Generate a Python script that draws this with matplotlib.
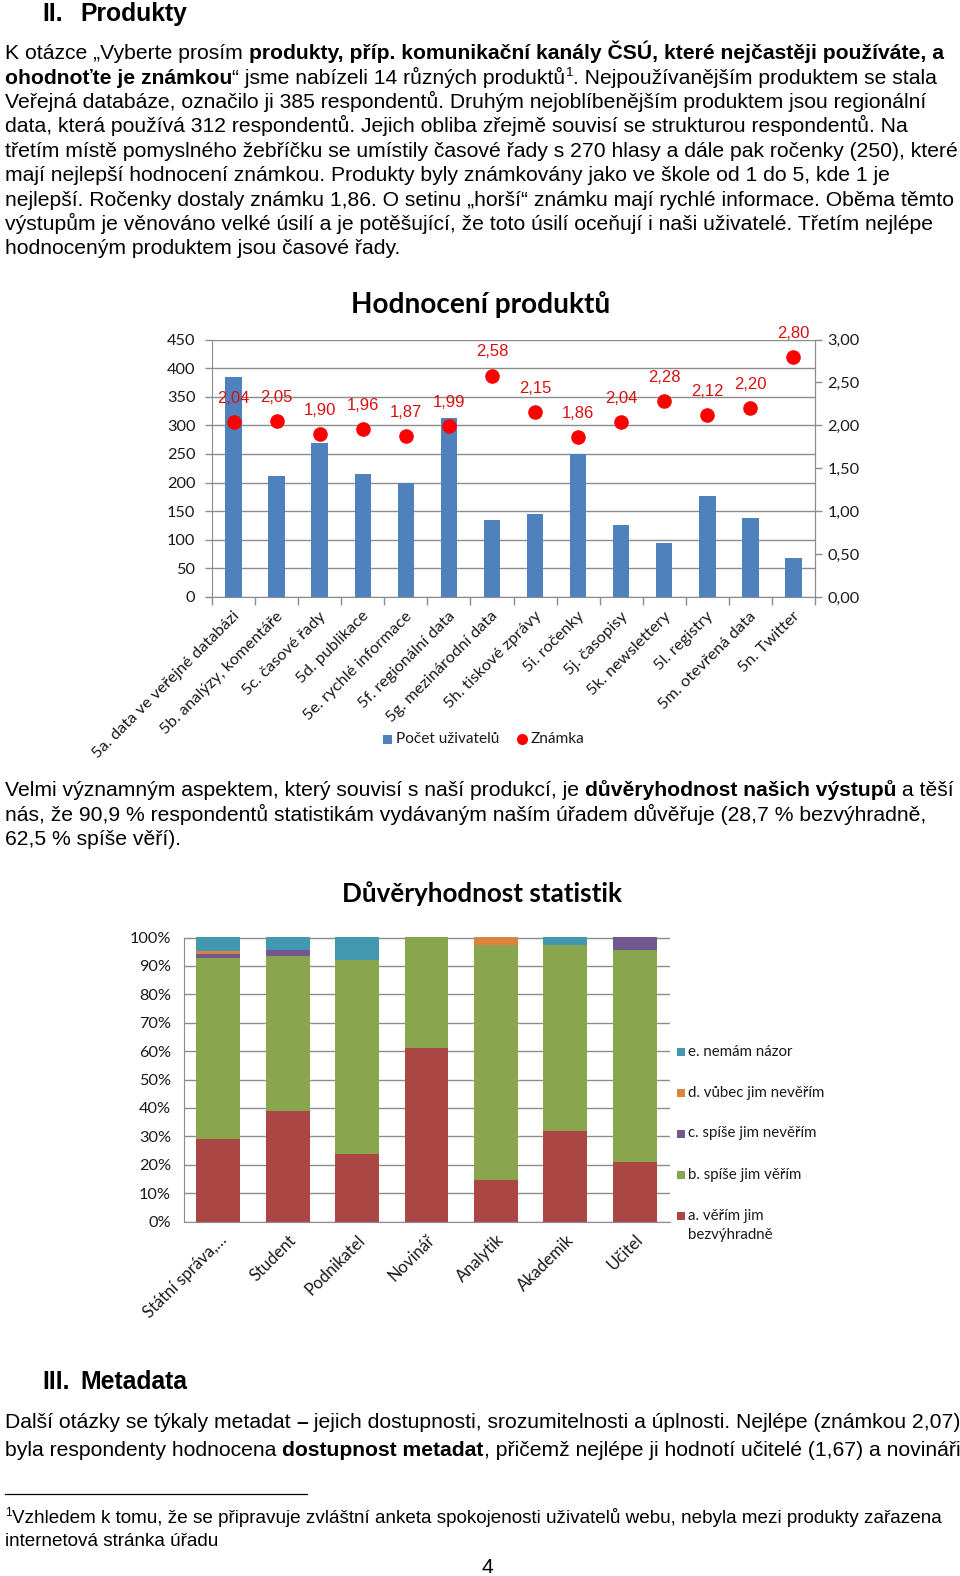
import matplotlib
matplotlib.use('Agg')
import matplotlib.pyplot as plt
from matplotlib.font_manager import FontProperties
from matplotlib.patches import Rectangle
from matplotlib.lines import Line2D
from matplotlib.transforms import ScaledTranslation
import numpy as np

W, H = 960, 1576
DPI = 100
BODY = ['Liberation Sans', 'DejaVu Sans']
CHART = ['Lato', 'DejaVu Sans']
TXT = '#1a1a1a'
GRID = '#8c8c8c'

# ---------------- data: chart 1 ----------------
products = ["5a. data ve veřejné databázi", "5b. analýzy, komentáře", "5c. časové řady",
            "5d. publikace", "5e. rychlé informace", "5f. regionální data",
            "5g. mezinárodní data", "5h. tiskové zprávy", "5i. ročenky", "5j. časopisy",
            "5k. newslettery", "5l. registry", "5m. otevřená data", "5n. Twitter"]
users = [385, 212, 270, 215, 199, 312, 135, 145, 250, 126, 94, 177, 138, 69]
grades = [2.04, 2.05, 1.90, 1.96, 1.87, 1.99, 2.58, 2.15, 1.86, 2.04, 2.28, 2.12, 2.20, 2.80]
users_ticks = [0, 50, 100, 150, 200, 250, 300, 350, 400, 450]
grade_ticks = [0.0, 0.5, 1.0, 1.5, 2.0, 2.5, 3.0]
legend1 = ["Počet uživatelů", "Známka"]

# ---------------- data: chart 2 ----------------
groups = ["Státní správa,…", "Student", "Podnikatel", "Novinář", "Analytik", "Akademik", "Učitel"]
trust_a = [29.0, 38.9, 23.6, 61.1, 14.5, 31.7, 20.8]
trust_b = [63.8, 54.5, 68.4, 38.9, 82.7, 65.6, 74.9]
trust_c = [1.3, 2.1, 0.0, 0.0, 0.0, 0.0, 4.3]
trust_d = [1.1, 0.0, 0.0, 0.0, 2.8, 0.0, 0.0]
trust_e = [4.8, 4.5, 8.0, 0.0, 0.0, 2.7, 0.0]
trust_names = ["a. věřím jim\nbezvýhradně", "b. spíše jim věřím", "c. spíše jim nevěřím",
               "d. vůbec jim nevěřím", "e. nemám názor"]
trust_colors = ['#AA4643', '#89A54E', '#71588F', '#DB843D', '#4198AF']
pct_ticks = [0, 10, 20, 30, 40, 50, 60, 70, 80, 90, 100]

# ---------------- text ----------------
para1 = [
    [("K otázce „Vyberte prosím ", ""), ("produkty, příp. komunikační kanály ČSÚ, které nejčastěji používáte, a", "b")],
    [("ohodnoťte je známkou", "b"), ("“ jsme nabízeli 14 různých produktů", ""), ("1", "s"),
     (". Nejpoužívanějším produktem se stala", "")],
    [("Veřejná databáze, označilo ji 385 respondentů. Druhým nejoblíbenějším produktem jsou regionální", "")],
    [("data, která používá 312 respondentů. Jejich obliba zřejmě souvisí se strukturou respondentů. Na", "")],
    [("třetím místě pomyslného žebříčku se umístily časové řady s 270 hlasy a dále pak ročenky (250), které", "")],
    [("mají nejlepší hodnocení známkou. Produkty byly známkovány jako ve škole od 1 do 5, kde 1 je", "")],
    [("nejlepší. Ročenky dostaly známku 1,86. O setinu „horší“ známku mají rychlé informace. Oběma těmto", "")],
    [("výstupům je věnováno velké úsilí a je potěšující, že toto úsilí oceňují i naši uživatelé. Třetím nejlépe", "")],
    [("hodnoceným produktem jsou časové řady.", "")],
]
para2 = [
    [("Velmi významným aspektem, který souvisí s naší produkcí, je ", ""),
     ("důvěryhodnost našich výstupů", "b"), (" a těší", "")],
    [("nás, že 90,9 % respondentů statistikám vydávaným naším úřadem důvěřuje (28,7 % bezvýhradně,", "")],
    [("62,5 % spíše věří).", "")],
]
para3 = [
    [("Další otázky se týkaly metadat ", ""), ("–", "b"),
     (" jejich dostupnosti, srozumitelnosti a úplnosti. Nejlépe (známkou 2,07)", "")],
    [("byla respondenty hodnocena ", ""), ("dostupnost metadat", "b"),
     (", přičemž nejlépe ji hodnotí učitelé (1,67) a novináři", "")],
]
foot = [
    [("1", "s"), ("Vzhledem k tomu, že se připravuje zvláštní anketa spokojenosti uživatelů webu, nebyla mezi produkty zařazena", "")],
    [("internetová stránka úřadu", "")],
]

fig = plt.figure(figsize=(W / DPI, H / DPI), dpi=DPI)
fig.patch.set_facecolor('white')
renderer = fig.canvas.get_renderer()


def fx(x):
    return x / W


def fy(y):
    return 1 - y / H


def tw(s, size, bold=False, family=BODY):
    fp = FontProperties(family=family, size=size, weight='bold' if bold else 'normal')
    w1, _, _ = renderer.get_text_width_height_descent('|' + s + '|', fp, ismath=False)
    w2, _, _ = renderer.get_text_width_height_descent('||', fp, ismath=False)
    return w1 - w2


def line_w(runs, size, family=BODY):
    tot = 0
    for s, st in runs:
        fs = size * 0.62 if 's' in st else size
        tot += tw(s, fs, 'b' in st, family)
    return tot


def draw_line(x, y, runs, size, family=BODY, color='black'):
    cx = x
    for s, st in runs:
        sup = 's' in st
        bold = 'b' in st
        fs = size * 0.62 if sup else size
        yy = y - size * DPI / 72 * 0.38 if sup else y
        fig.text(fx(cx), fy(yy), s, fontsize=fs, fontweight='bold' if bold else 'normal',
                 family=family, ha='left', va='baseline', color=color)
        cx += tw(s, fs, bold, family)


# calibrate font sizes to the page widths
body = 12 * 937 / line_w(para1[0], 12)
foot_sz = 10 * 943 / line_w(foot[0], 10)
head = 16 * 107 / tw("Produkty", 16, True)

# headings
fig.text(fx(42), fy(21), "II.", fontsize=head, fontweight='bold', family=BODY, va='baseline')
fig.text(fx(80), fy(21), "Produkty", fontsize=head, fontweight='bold', family=BODY, va='baseline')
fig.text(fx(42), fy(1389), "III.", fontsize=head, fontweight='bold', family=BODY, va='baseline')
fig.text(fx(80), fy(1389), "Metadata", fontsize=head, fontweight='bold', family=BODY, va='baseline')

for i, ln in enumerate(para1):
    draw_line(5, 59.3 + 24.4 * i, ln, body)
for i, ln in enumerate(para2):
    draw_line(5, 796.5 + 24.4 * i, ln, body)
for i, ln in enumerate(para3):
    draw_line(5, 1427.5 + 28.7 * i, ln, body)
fig.add_artist(Line2D([fx(5), fx(307)], [fy(1494), fy(1494)], color='black', lw=0.9))
for i, ln in enumerate(foot):
    draw_line(5, 1523 + 23.5 * i, ln, foot_sz)
fig.text(fx(487), fy(1573), "4", fontsize=body, family=BODY, ha='center', va='baseline')

# ---------------- chart 1 ----------------
tsize = 18 * 259 / tw("Hodnocení produktů", 18, True, CHART)
tsize2 = 18 * 280 / tw("Důvěryhodnost statistik", 18, True, CHART)
lab_sz = 10 * 200 / tw(products[0], 10, False, CHART)
leg_sz = 10 * 104 / tw(legend1[0], 10, False, CHART)
tick_sz = leg_sz * 1.05
red_sz = 10 * 32.5 / tw("2,04", 10, False, BODY)

fig.text(fx(481), fy(313), "Hodnocení produktů", fontsize=tsize, fontweight='bold',
         family=CHART, ha='center', va='baseline', color='black')

L, R, T, B = 212, 815, 339.5, 597
ax1 = fig.add_axes([fx(L), fy(B), (R - L) / W, (B - T) / H])
x = np.arange(len(products))
ax1.bar(x, users, width=0.38, color='#4F81BD', zorder=2)
ax1.set_xlim(-0.5, len(products) - 0.5)
ax1.set_ylim(0, 450)
ax1.set_yticks(users_ticks)
ax1.set_yticklabels([str(v) for v in users_ticks], fontsize=tick_sz, family=CHART, color=TXT)
ax1.yaxis.grid(True, color=GRID, lw=1)
ax1.set_axisbelow(True)
ax1.tick_params(axis='y', length=5, width=1, color=GRID, pad=7)
ax1.set_xticks(x)
ax1.set_xticklabels([])
ax1.tick_params(axis='x', which='major', length=0)
ax1.set_xticks(np.arange(-0.5, len(products), 1.0), minor=True)
ax1.tick_params(axis='x', which='minor', length=6, width=1, color=GRID, direction='out')
ax1.spines['top'].set_visible(False)
for sp in ['left', 'bottom', 'right']:
    ax1.spines[sp].set_color(GRID)

off = ScaledTranslation(4 / DPI, -17 / DPI, fig.dpi_scale_trans)
for i, name in enumerate(products):
    ax1.text(i, 0, name, transform=ax1.get_xaxis_transform() + off, rotation=45,
             rotation_mode='anchor', ha='right', va='center', fontsize=lab_sz,
             family=CHART, color=TXT)

ax2 = ax1.twinx()
ax2.set_ylim(0, 3)
ax2.plot(x, grades, 'o', color='#FF0000', ms=10.5, mec='none', zorder=5, clip_on=False)
for i, g in enumerate(grades):
    ax2.annotate(f"{g:.2f}".replace('.', ','), (i, g), xytext=(0, 17.0), textcoords='offset points',
                 ha='center', va='center', color='#D81010', fontsize=red_sz, family=BODY,
                 annotation_clip=False)
ax2.set_yticks(grade_ticks)
ax2.set_yticklabels([f"{v:.2f}".replace('.', ',') for v in grade_ticks], fontsize=tick_sz,
                    family=CHART, color=TXT)
ax2.tick_params(axis='y', length=5, width=1, color=GRID, pad=4)
for sp in ['top', 'left', 'bottom']:
    ax2.spines[sp].set_visible(False)
ax2.spines['right'].set_color(GRID)

# legend chart 1
ly = 739
fig.add_artist(Rectangle((fx(383), fy(ly + 4.5)), 9 / W, 9 / H, transform=fig.transFigure,
                         facecolor='#4F81BD', edgecolor='none'))
fig.text(fx(396), fy(ly), legend1[0], fontsize=leg_sz, family=CHART, va='center', color=TXT)
fig.add_artist(Line2D([fx(522)], [fy(ly)], marker='o', ms=8, color='#FF0000', mec='none',
                      transform=fig.transFigure))
fig.text(fx(531), fy(ly), legend1[1], fontsize=leg_sz, family=CHART, va='center', color=TXT)

# ---------------- chart 2 ----------------
fig.text(fx(482), fy(902), "Důvěryhodnost statistik", fontsize=tsize2, fontweight='bold',
         family=CHART, ha='center', va='baseline', color='black')
L2, R2, T2, B2 = 183.5, 669.5, 937.5, 1221.5
ax3 = fig.add_axes([fx(L2), fy(B2), (R2 - L2) / W, (B2 - T2) / H])
xg = np.arange(len(groups))
bottom = np.zeros(len(groups))
for vals, col in zip([trust_a, trust_b, trust_c, trust_d, trust_e], trust_colors):
    ax3.bar(xg, vals, bottom=bottom, width=0.63, color=col, zorder=2)
    bottom += np.array(vals)
ax3.set_xlim(-0.5, len(groups) - 0.5)
ax3.set_ylim(0, 100)
ax3.set_yticks(pct_ticks)
ax3.set_yticklabels([f"{v}%" for v in pct_ticks], fontsize=tick_sz, family=CHART, color=TXT)
ax3.yaxis.grid(True, color=GRID, lw=1)
ax3.set_axisbelow(True)
ax3.tick_params(axis='y', length=0, pad=9)
ax3.set_xticks(xg)
ax3.set_xticklabels([])
ax3.tick_params(axis='x', length=0)
for sp in ['top', 'right']:
    ax3.spines[sp].set_visible(False)
for sp in ['left', 'bottom']:
    ax3.spines[sp].set_color(GRID)
off2 = ScaledTranslation(6 / DPI, -16 / DPI, fig.dpi_scale_trans)
for i, name in enumerate(groups):
    ax3.text(i, 0, name, transform=ax3.get_xaxis_transform() + off2, rotation=45,
             rotation_mode='anchor', ha='right', va='center', fontsize=lab_sz * 1.02,
             family=CHART, color=TXT)

# legend chart 2 (top = e ... bottom = a)
leg2_sz = 10 * 104 / tw(trust_names[4], 10, False, CHART)
ys = [1216, 1175, 1133.5, 1092.5, 1051.5]
for name, col, yy in zip(trust_names, trust_colors, ys):
    fig.add_artist(Rectangle((fx(677), fy(yy + 4)), 8 / W, 8 / H, transform=fig.transFigure,
                             facecolor=col, edgecolor='none'))
    lines = name.split('\n')
    for k, ln in enumerate(lines):
        fig.text(fx(688), fy(yy + 18.5 * k), ln, fontsize=leg2_sz, family=CHART,
                 va='center', color=TXT)

fig.savefig('out.png', dpi=DPI, facecolor='white')
